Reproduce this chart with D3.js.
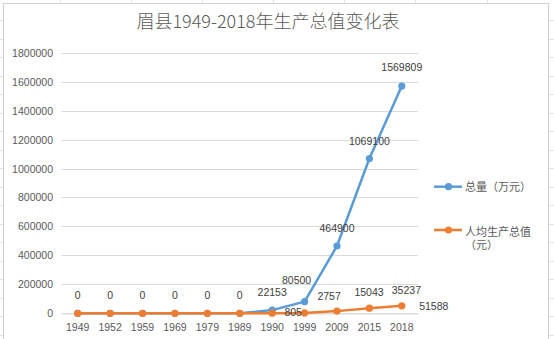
<!DOCTYPE html>
<html><head><meta charset="utf-8">
<script src="https://cdn.jsdelivr.net/npm/d3@7/dist/d3.min.js"></script>
<style>
html,body{margin:0;padding:0;background:#fff;}
svg{display:block;}
</style></head>
<body>
<script>
const title = "眉县1949-2018年生产总值变化表";
const categories = ["1949","1952","1959","1969","1979","1989","1990","1999","2009","2015","2018"];
const totalName = "总量（万元）";
const totalValues = [0,0,0,0,0,0,22153,80500,464900,1069100,1569809];
const perCapitaName = ["人均生产总值","（元）"];
const perCapitaValues = [0,0,0,0,0,0,805,2757,15043,35237,51588];
const yTicks = [0,200000,400000,600000,800000,1000000,1200000,1400000,1600000,1800000];

const W = 554, H = 339;
const svg = d3.select("body").append("svg").attr("width", W).attr("height", H);
const FONT = "'Liberation Sans', Arial, sans-serif";
const CJK = "'Noto Sans CJK SC', sans-serif";

// spreadsheet background cells (decoration)
const bg = svg.append("g").attr("stroke", "#e3e3e3").attr("stroke-width", 1);
[60,131,202,273,344,415,487].forEach(x => bg.append("line").attr("x1", x+0.5).attr("x2", x+0.5).attr("y1", 0).attr("y2", 3));
d3.range(20, H, 18.5).forEach(y => {
  bg.append("line").attr("x1", 0).attr("x2", 3).attr("y1", Math.round(y)+0.5).attr("y2", Math.round(y)+0.5);
  bg.append("line").attr("x1", 549).attr("x2", W).attr("y1", Math.round(y)+0.5).attr("y2", Math.round(y)+0.5);
});
svg.append("rect").attr("x", 3.5).attr("y", 3.5).attr("width", 545).attr("height", 345)
  .attr("fill", "#fff").attr("stroke", "#d0d0d0");

// title
svg.append("text").attr("x", 268).attr("y", 28).attr("text-anchor", "middle")
  .attr("font-family", CJK).attr("font-weight", 300).attr("font-size", 18).attr("fill", "#595959")
  .text(title);

const x = d3.scaleBand().domain(categories).range([61.5, 418]);
const cx = d => x(d) + x.bandwidth()/2;
const y = d3.scaleLinear().domain([0, 1800000]).range([313.3, 52.7]);

// gridlines
const yAxis = d3.axisLeft(y).tickValues(yTicks).tickSize(-(418-61.5)).tickFormat(d3.format("d")).tickPadding(8);
const gy = svg.append("g").attr("transform", "translate(61.5,0)").call(yAxis);
gy.select(".domain").remove();
gy.selectAll(".tick line").attr("stroke", "#d9d9d9").attr("stroke-width", 1);
gy.selectAll(".tick text").attr("font-family", FONT).attr("font-size", 10.5).attr("fill", "#595959").attr("x", -8.5);
gy.selectAll(".tick").attr("transform", d => `translate(0,${Math.round(y(d))+0.5})`);

// x axis
const xAxis = d3.axisBottom(x).tickSize(0).tickPadding(10);
const gx = svg.append("g").attr("transform", `translate(0,${Math.round(y(0))+0.5})`).call(xAxis);
gx.select(".domain").attr("stroke", "#d9d9d9");
gx.selectAll(".tick text").attr("font-family", FONT).attr("font-size", 10.5).attr("fill", "#595959");

const blue = "#5B9BD5", orange = "#ED7D31";
const line = vals => d3.line().x((d,i) => cx(categories[i])).y(d => y(d))(vals);

function series(vals, color) {
  svg.append("path").attr("d", line(vals)).attr("fill", "none").attr("stroke", color)
    .attr("stroke-width", 2.5).attr("stroke-linejoin", "round").attr("stroke-linecap", "round");
  svg.append("g").selectAll("circle").data(vals).join("circle")
    .attr("cx", (d,i) => cx(categories[i])).attr("cy", d => y(d)).attr("r", 3.6).attr("fill", color);
}
series(totalValues, blue);
series(perCapitaValues, orange);

// data labels
const blueOffsets = totalValues.map((d,i) => i === 7 ? [-8, -21] : (i === 10 ? [0, -18.7] : [0, -17.5]));
svg.append("g").selectAll("text").data(totalValues).join("text")
  .attr("x", (d,i) => cx(categories[i]) + blueOffsets[i][0])
  .attr("y", (d,i) => y(d) + blueOffsets[i][1])
  .attr("dy", "0.35em").attr("text-anchor", "middle")
  .attr("font-family", FONT).attr("font-size", 10.5).attr("fill", "#404040")
  .text(d => d);

const orangeOffsets = {6:[21,-0.5], 7:[24.5,-17], 8:[32,-19], 9:[37,-18], 10:[32,0]};
svg.append("g").selectAll("text").data(perCapitaValues.map((v,i)=>({v,i})).filter(d => d.v > 0)).join("text")
  .attr("x", d => cx(categories[d.i]) + orangeOffsets[d.i][0])
  .attr("y", d => y(d.v) + orangeOffsets[d.i][1])
  .attr("dy", "0.35em").attr("text-anchor", "middle")
  .attr("font-family", FONT).attr("font-size", 10.5).attr("fill", "#404040")
  .text(d => d.v);

// legend
const lg = svg.append("g");
function legendItem(yy, color, lines) {
  lg.append("line").attr("x1", 434).attr("x2", 462).attr("y1", yy).attr("y2", yy)
    .attr("stroke", color).attr("stroke-width", 2.5);
  lg.append("circle").attr("cx", 448.5).attr("cy", yy).attr("r", 3.6).attr("fill", color);
  const firstY = lines.length > 1 ? yy + 2.5 : yy;
  const t = lg.append("text").attr("font-family", CJK).attr("font-size", 11).attr("fill", "#595959");
  lines.forEach((s, k) => t.append("tspan").attr("x", 465).attr("y", firstY + k*12.5).attr("dy", "0.35em").text(s));
}
legendItem(186.7, blue, [totalName]);
legendItem(230, orange, perCapitaName);
</script>
</body></html>
